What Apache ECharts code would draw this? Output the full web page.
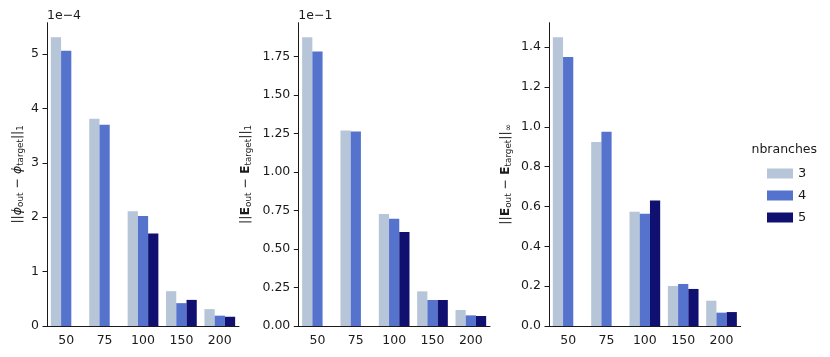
<!DOCTYPE html>
<html>
<head>
<meta charset="utf-8">
<script src="https://cdn.jsdelivr.net/npm/echarts@6/dist/echarts.min.js"></script>
<style>
html,body{margin:0;padding:0;background:#fff;}
#c{width:830px;height:357px;}
</style>
</head>
<body>
<div id="c"></div>
<script>
// ---- data ----
const categories = ['50', '75', '100', '150', '200'];
const branchNames = ['3', '4', '5'];

// panel 1: ||phi_out - phi_target||_1
const phiL1_b3 = [5.31e-4, 3.81e-4, 2.11e-4, 0.64e-4, 0.31e-4];
const phiL1_b4 = [5.06e-4, 3.70e-4, 2.02e-4, 0.42e-4, 0.19e-4];
const phiL1_b5 = [null, null, 1.70e-4, 0.48e-4, 0.17e-4];

// panel 2: ||E_out - E_target||_1
const EL1_b3 = [1.876e-1, 1.269e-1, 0.728e-1, 0.225e-1, 0.104e-1];
const EL1_b4 = [1.782e-1, 1.263e-1, 0.697e-1, 0.169e-1, 0.069e-1];
const EL1_b5 = [null, null, 0.611e-1, 0.169e-1, 0.065e-1];

// panel 3: ||E_out - E_target||_inf
const ELinf_b3 = [1.450, 0.924, 0.574, 0.201, 0.127];
const ELinf_b4 = [1.350, 0.975, 0.563, 0.211, 0.067];
const ELinf_b5 = [null, null, 0.630, 0.186, 0.070];

// tick labels (axis units)
const ticks1 = [0, 1, 2, 3, 4, 5];             // x 1e-4
const ticks2 = [0, 0.25, 0.5, 0.75, 1, 1.25, 1.5, 1.75]; // x 1e-1
const ticks3 = [0, 0.2, 0.4, 0.6, 0.8, 1.0, 1.2, 1.4];

// ---- styling ----
const colors = ['#b6c5d8', '#5573cd', '#101070'];
const axisColor = '#1a1a1a';
const font = 'DejaVu Sans';

const chart = echarts.init(document.getElementById('c'), null, {renderer: 'canvas'});

const grids = [
  {left: 47, top: 22.7, width: 192, height: 303.3},
  {left: 298.3, top: 22.7, width: 191.7, height: 303.3},
  {left: 549, top: 22.7, width: 191.7, height: 303.3}
];

const panels = [
  {data: [phiL1_b3, phiL1_b4, phiL1_b5], scale: 1e-4, ticks: ticks1, dec: 0, nameGap: 22,
   name: '{m|||}{mi|ϕ}{s|out}{m| − }{mi|ϕ}{s|target}{m|||}{s|1}'},
  {data: [EL1_b3, EL1_b4, EL1_b5], scale: 1e-1, ticks: ticks2, dec: 2, nameGap: 45,
   name: '{m|||}{mb|E}{s|out}{m| − }{mb|E}{s|target}{m|||}{s|1}'},
  {data: [ELinf_b3, ELinf_b4, ELinf_b5], scale: 1, ticks: ticks3, dec: 1, nameGap: 36,
   name: '{m|||}{mb|E}{s|out}{m| − }{mb|E}{s|target}{m|||}{s|∞}'}
];

const rich = {
  m: {fontFamily: font, fontSize: 12.5, color: axisColor, lineHeight: 14, verticalAlign: 'top'},
  mi: {fontFamily: font, fontSize: 12.5, fontStyle: 'italic', color: axisColor, lineHeight: 14, verticalAlign: 'top'},
  mb: {fontFamily: font, fontSize: 12.5, fontWeight: 'bold', color: axisColor, lineHeight: 14, verticalAlign: 'top'},
  s: {fontFamily: font, fontSize: 8.8, color: axisColor, lineHeight: 10, padding: [5, 0, 0, 0], verticalAlign: 'top'}
};

const xAxes = [], yAxes = [], series = [];
panels.forEach((p, i) => {
  const maxVal = Math.max(...p.data.flat().filter(v => v != null)) * 1.05;
  xAxes.push({
    type: 'category', gridIndex: i, data: categories,
    axisLine: {lineStyle: {color: axisColor, width: 1}},
    axisTick: {alignWithLabel: true, length: 4.5, lineStyle: {color: axisColor}},
    axisLabel: {color: axisColor, fontFamily: font, fontSize: 12.5, margin: 8}
  });
  const tickVals = p.ticks.map(t => t * p.scale);
  yAxes.push({
    type: 'value', gridIndex: i, min: 0, max: maxVal,
    name: p.name, nameLocation: 'middle', nameRotate: 90, nameGap: p.nameGap,
    nameTextStyle: {rich: rich},
    axisLine: {show: true, lineStyle: {color: axisColor, width: 1}},
    axisTick: {show: true, length: 4.5, lineStyle: {color: axisColor}, customValues: tickVals},
    axisLabel: {color: axisColor, fontFamily: font, fontSize: 12.5, margin: 8,
      customValues: tickVals,
      formatter: v => (v / p.scale).toFixed(p.dec)},
    splitLine: {show: false}
  });
  p.data.forEach((arr, k) => {
    series.push({
      type: 'bar', name: branchNames[k], xAxisIndex: i, yAxisIndex: i,
      data: arr, barGap: '0%', barCategoryGap: '20%',
      itemStyle: {color: colors[k]},
      emphasis: {disabled: true}, animation: false
    });
  });
});

chart.setOption({
  animation: false,
  grid: grids,
  xAxis: xAxes,
  yAxis: yAxes,
  series: series,
  legend: {
    data: branchNames, orient: 'vertical', left: 762, top: 162,
    itemWidth: 26, itemHeight: 10, itemGap: 9, icon: 'rect',
    textStyle: {fontFamily: font, fontSize: 13, color: axisColor, lineHeight: 10}
  },
  graphic: [
    {type: 'text', left: 751.5, top: 143, style: {text: 'nbranches', fontFamily: font, fontSize: 12.5, fill: axisColor}},
    {type: 'text', left: 47, top: 9, style: {text: '1e−4', fontFamily: font, fontSize: 12.5, fill: axisColor}},
    {type: 'text', left: 298.3, top: 9, style: {text: '1e−1', fontFamily: font, fontSize: 12.5, fill: axisColor}}
  ]
});
</script>
</body>
</html>
